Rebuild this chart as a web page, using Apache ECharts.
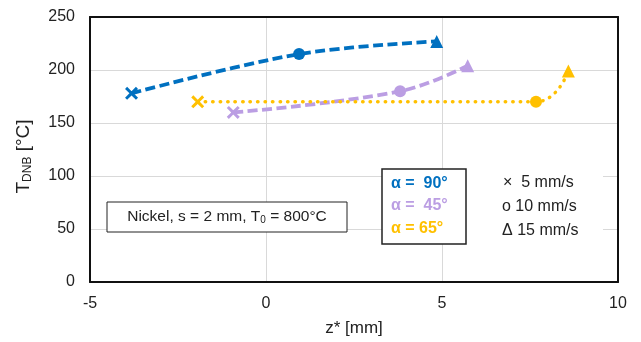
<!DOCTYPE html>
<html>
<head>
<meta charset="utf-8">
<script src="https://cdn.jsdelivr.net/npm/echarts@6/dist/echarts.min.js"></script>
<style>html,body{margin:0;padding:0;background:#fff}#c{width:641px;height:342px}</style>
</head>
<body>
<div id="c"></div>
<script>
// ---- data ----
var speedLabels = ['5 mm/s', '10 mm/s', '15 mm/s'];
var angleLabels = ['α =  90°', 'α =  45°', 'α = 65°'];
var blueX = [-3.82, 0.94, 4.85];
var blueY = [178, 215, 227];
var purpleX = [-0.93, 3.81, 5.73];
var purpleY = [160, 180, 204];
var orangeX = [-1.94, 7.67, 8.59];
var orangeY = [170, 170, 199];
var xTicks = [-5, 0, 5, 10];
var yTicks = [0, 50, 100, 150, 200, 250];

// ---- styling ----
var BLUE = '#0070C0', PURPLE = '#BB9EE3', ORANGE = '#FFC000';
var crossPath = 'path://M0,1.6L1.6,0L5,3.4L8.4,0L10,1.6L6.6,5L10,8.4L8.4,10L5,6.6L1.6,10L0,8.4L3.4,5Z';
var symbols = [crossPath, 'circle', 'triangle'];
var symbolSizes = [13, 12, 13];

function pts(xs, ys) {
  return xs.map(function (x, i) {
    return { value: [x, ys[i]], symbol: symbols[i], symbolSize: symbolSizes[i] };
  });
}
function mkSeries(name, xs, ys, color, dash, cap, width, smooth) {
  return {
    name: name, type: 'line', smooth: smooth, data: pts(xs, ys),
    showSymbol: true,
    lineStyle: { color: color, width: width, type: dash, cap: cap },
    itemStyle: { color: color },
    emphasis: { disabled: true },
    z: 3
  };
}

var chart = echarts.init(document.getElementById('c'));
var font = 'Liberation Sans, Arial, sans-serif';
var frameAxis = { show: true, onZero: false, lineStyle: { color: '#111', width: 2 } };
chart.setOption({
  animation: false,
  textStyle: { fontFamily: font },
  grid: { left: 90, right: 23, top: 17, bottom: 59 },
  xAxis: [{
    type: 'value', min: xTicks[0], max: xTicks[xTicks.length - 1], interval: 5,
    name: 'z* [mm]', nameLocation: 'middle', nameGap: 38,
    nameTextStyle: { fontSize: 17, color: '#222', fontFamily: font },
    axisLine: frameAxis, axisTick: { show: false },
    axisLabel: { fontSize: 16, color: '#222', margin: 14, fontFamily: font },
    splitLine: { lineStyle: { color: '#D9D9D9', width: 1 } }
  }, {
    type: 'value', position: 'top', min: xTicks[0], max: xTicks[xTicks.length - 1], interval: 5,
    axisLine: frameAxis, axisTick: { show: false }, axisLabel: { show: false }, splitLine: { show: false }
  }],
  yAxis: [{
    type: 'value', min: yTicks[0], max: yTicks[yTicks.length - 1], interval: 50,
    name: 'T{sub|DNB} [°C]', nameLocation: 'middle', nameGap: 56, nameRotate: 90,
    nameTextStyle: { fontSize: 19, color: '#222', fontFamily: font, padding: [0, 14, 0, 0],
      rich: { sub: { fontSize: 12, verticalAlign: 'bottom', padding: [8, 0, 0, 0], color: '#222', fontFamily: font } } },
    axisLine: frameAxis, axisTick: { show: false },
    axisLabel: { fontSize: 16, color: '#222', margin: 15, fontFamily: font },
    splitLine: { lineStyle: { color: '#D9D9D9', width: 1 } }
  }, {
    type: 'value', position: 'right', min: yTicks[0], max: yTicks[yTicks.length - 1], interval: 50,
    axisLine: frameAxis, axisTick: { show: false }, axisLabel: { show: false }, splitLine: { show: false }
  }],
  series: [
    mkSeries('α = 90°', blueX, blueY, BLUE, [10, 4.5], 'butt', 3.8, 0.35),
    mkSeries('α = 45°', purpleX, purpleY, PURPLE, [10, 4.5], 'butt', 3.8, 0.4),
    mkSeries('α = 65°', orangeX, orangeY, ORANGE, [0.5, 7], 'round', 3.4, 0.5)
  ],
  graphic: [
    { type: 'rect', shape: { x: 107, y: 202, width: 240, height: 30 }, style: { fill: '#fff', stroke: '#222', lineWidth: 1 }, z: 10 },
    { type: 'text', x: 227, y: 217, z: 11,
      style: { text: 'Nickel, s = 2 mm, T{sub|0} = 800°C', align: 'center', verticalAlign: 'middle',
        fontSize: 15.5, fill: '#222', fontFamily: font,
        rich: { sub: { fontSize: 10, verticalAlign: 'bottom', padding: [7, 0, 0, 0], fill: '#222', fontFamily: font } } } },
    { type: 'rect', shape: { x: 466, y: 160, width: 137, height: 92 }, style: { fill: '#fff', stroke: null }, z: 9 },
    { type: 'rect', shape: { x: 382, y: 169, width: 84, height: 75 }, style: { fill: '#fff', stroke: '#222', lineWidth: 1.5 }, z: 10 },
    { type: 'text', x: 391, y: 184, z: 11, style: { text: angleLabels[0], verticalAlign: 'middle', fontSize: 16, fontWeight: 'bold', fill: BLUE, fontFamily: font } },
    { type: 'text', x: 391, y: 206, z: 11, style: { text: angleLabels[1], verticalAlign: 'middle', fontSize: 16, fontWeight: 'bold', fill: PURPLE, fontFamily: font } },
    { type: 'text', x: 391, y: 229, z: 11, style: { text: angleLabels[2], verticalAlign: 'middle', fontSize: 16, fontWeight: 'bold', fill: ORANGE, fontFamily: font } },
    { type: 'text', x: 503, y: 183, z: 11, style: { text: '×  ' + speedLabels[0], verticalAlign: 'middle', fontSize: 16, fill: '#222', fontFamily: font } },
    { type: 'text', x: 502, y: 207, z: 11, style: { text: 'o ' + speedLabels[1], verticalAlign: 'middle', fontSize: 16, fill: '#222', fontFamily: font } },
    { type: 'text', x: 502, y: 231, z: 11, style: { text: 'Δ ' + speedLabels[2], verticalAlign: 'middle', fontSize: 16, fill: '#222', fontFamily: font } }
  ]
});
</script>
</body>
</html>
